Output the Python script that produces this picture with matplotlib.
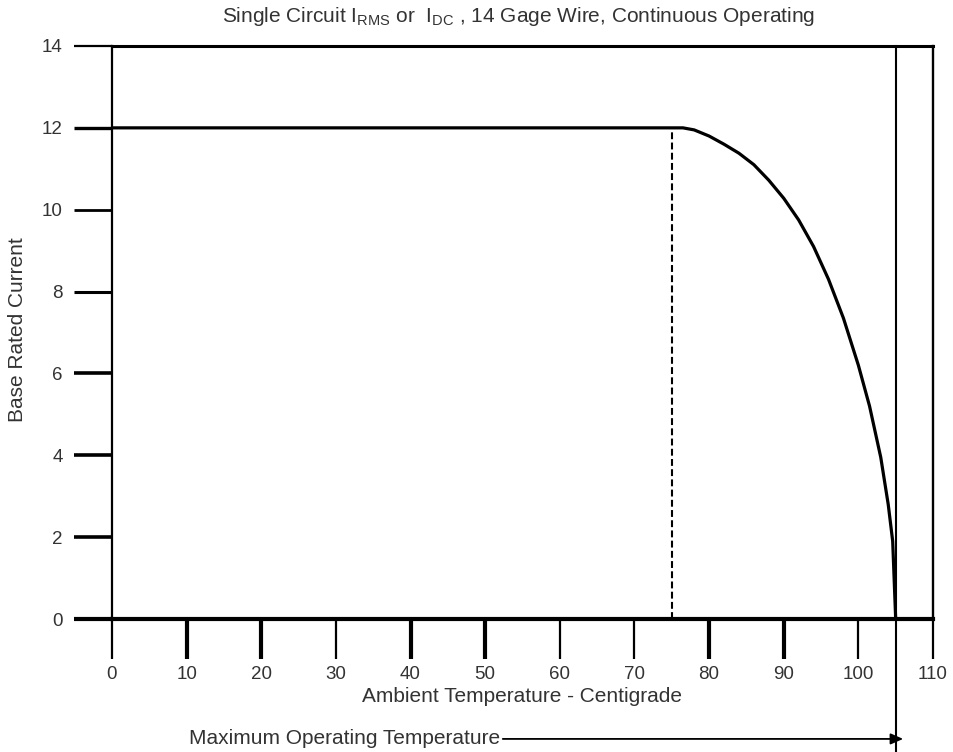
import matplotlib
matplotlib.use("Agg")
import matplotlib.pyplot as plt

plt.rcParams['font.family'] = ['Liberation Sans', 'DejaVu Sans']
plt.rcParams['mathtext.fontset'] = 'custom'
plt.rcParams['mathtext.rm'] = 'Liberation Sans'
plt.rcParams['mathtext.it'] = 'Liberation Sans:italic'

# Data
temperature = [0, 76.5, 78, 80, 82, 84, 86, 88, 90, 92, 94, 96, 98, 100, 101.5, 103, 104, 104.6, 105]
current = [12, 12, 11.95, 11.8, 11.6, 11.38, 11.1, 10.72, 10.28, 9.75, 9.1, 8.3, 7.35, 6.2, 5.2, 3.95, 2.8, 1.9, 0]
derate_start = 75
max_temp = 105
x_ticks = [0, 10, 20, 30, 40, 50, 60, 70, 80, 90, 100, 110]
y_ticks = [0, 2, 4, 6, 8, 10, 12, 14]
thick_x = [10, 20, 40, 50, 80, 90]
y_tick_widths = [3.0, 2.6, 2.6, 2.6, 2.2, 2.0, 2.4, 1.6]

txt = '#333333'
W, H = 954, 752
fig = plt.figure(figsize=(W / 100, H / 100), dpi=100)
x0, x1, ytop, ybot = 112, 933, 46, 619
ax = fig.add_axes([x0 / W, 1 - ybot / H, (x1 - x0) / W, (ybot - ytop) / H])
ax.set_xlim(0, 110)
ax.set_ylim(0, 14)

ax.plot(temperature, current, color='black', lw=2.3, solid_capstyle='butt',
        solid_joinstyle='round', clip_on=False, zorder=3)
ax.plot([derate_start, derate_start], [0, 12], color='black', lw=1.5, ls=(0, (3.3, 1.6)), zorder=2)
ax.plot([max_temp, max_temp], [14, -3.4], color='black', lw=1.5, clip_on=False, zorder=3)

ax.annotate('Maximum Operating Temperature', xy=(106.0, -2.93), xytext=(10.3, -2.93),
            xycoords='data', textcoords='data', ha='left', va='center', color=txt,
            fontsize=15, annotation_clip=False,
            arrowprops=dict(arrowstyle='-|>,head_length=0.5,head_width=0.22', color='black',
                            lw=1.3, shrinkA=0, shrinkB=0))

for s, lw in [('top', 2.2), ('left', 1.6), ('right', 1.7), ('bottom', 3.0)]:
    ax.spines[s].set_linewidth(lw)
    ax.spines[s].set_color('black')

ax.set_xticks(x_ticks)
ax.set_yticks(y_ticks)
ax.tick_params(axis='x', direction='out', length=29, pad=5, labelsize=13.5, labelcolor=txt, color='black')
ax.tick_params(axis='y', direction='out', length=27.5, pad=8, labelsize=13.5, labelcolor=txt, color='black')
for t, v in zip(ax.xaxis.get_major_ticks(), x_ticks):
    t.tick1line.set_markeredgewidth(3.0 if v in thick_x else 1.6)
for t, w in zip(ax.yaxis.get_major_ticks(), y_tick_widths):
    t.tick1line.set_markeredgewidth(w)

ax.set_xlabel('Ambient Temperature - Centigrade', fontsize=15, color=txt, labelpad=3)
fig.text(18 / W, 1 - 330 / H, 'Base Rated Current', rotation=90, ha='center', va='center',
         fontsize=15, color=txt)
fig.text(518 / W, 1 - 17 / H,
         r'Single Circuit $\mathregular{I_{RMS}}$ or  $\mathregular{I_{DC}}$ , 14 Gage Wire, Continuous Operating',
         ha='center', va='center', fontsize=15, color=txt)

fig.savefig('out.png', dpi=100)
